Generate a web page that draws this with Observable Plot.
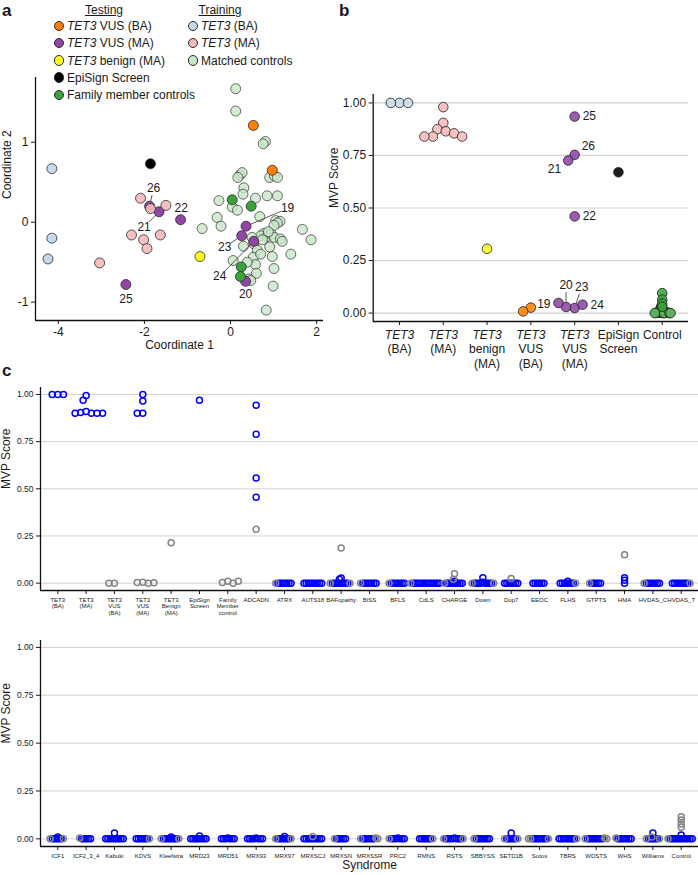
<!DOCTYPE html>
<html><head><meta charset="utf-8">
<script src="https://cdn.jsdelivr.net/npm/d3@7"></script>
<script src="https://cdn.jsdelivr.net/npm/@observablehq/plot@0.6"></script>
<style>
html,body{margin:0;padding:0;background:#fff}
#fig{position:relative;width:698px;height:875px;overflow:hidden;font-family:"Liberation Sans",Arial,Helvetica,sans-serif;color:#1a1a1a}
.plab{position:absolute;font-weight:bold;font-size:17px;line-height:17px}
.lg{position:absolute;font-size:12px;line-height:14px;white-space:nowrap}
.lg .sw{display:inline-block;box-sizing:border-box;width:10.5px;height:10.5px;border-radius:50%;border:0.9px solid #2b2b2b;vertical-align:-1px;margin-right:3px}
.hd{position:absolute;font-size:12px;line-height:14px;text-decoration:underline;transform:translateX(-50%);white-space:nowrap}
</style></head><body><div id="fig"></div>
<script>
// ---------------- DATA ----------------
// Panel a: MDS coordinates [Coordinate 1, Coordinate 2]
const mdsTET3BA = [[-4.15,0.67],[-4.15,-0.20],[-4.24,-0.46]];
const mdsTET3MA = [[-2.09,0.30],[-2.30,-0.16],[-2.02,-0.22],[-1.94,-0.33],[-1.63,-0.16],[-1.50,0.21],[-1.86,0.17],[-3.04,-0.51]];
const mdsMatched = [[0.12,1.67],[0.12,1.39],[0.81,1.01],[0.76,0.98],[0.22,0.59],[0.27,0.62],[0.17,0.56],[0.91,0.56],[1.02,0.58],[1.09,0.56],[0.31,0.43],[0.29,0.35],[-0.27,0.27],[0.58,0.30],[0.85,0.33],[1.09,0.33],[0.04,0.19],[0.16,0.15],[-0.31,0.06],[-0.22,-0.05],[-0.66,-0.08],[0.68,0.07],[1.05,0.02],[1.15,0.01],[1.09,-0.01],[1.01,-0.04],[1.67,-0.09],[1.87,-0.22],[1.40,-0.40],[0.78,-0.14],[0.70,-0.17],[0.85,-0.18],[0.95,-0.15],[1.02,-0.19],[1.16,-0.21],[1.20,-0.24],[0.50,-0.19],[0.54,-0.27],[0.91,-0.31],[0.97,-0.43],[0.62,-0.35],[0.53,-0.44],[0.58,-0.53],[0.06,-0.48],[1.01,-0.58],[0.60,-0.64],[0.43,-0.71],[0.99,-0.80],[0.83,-1.10],[0.39,-0.50],[0.47,-0.73],[0.70,-0.40],[0.88,-0.12],[0.74,-0.22],[0.30,-0.30]];
const mdsVUSBA = [[0.53,1.21],[0.97,0.65]];
const vusIds = [19,20,21,22,23,24,25,26];
const mdsVUSMA = [[0.36,-0.05],[0.35,-0.74],[-1.66,0.13],[-1.16,0.03],[0.26,-0.17],[0.54,-0.24],[-2.43,-0.78],[-1.88,0.20]];
const mdsBenign = [[-0.71,-0.43]];
const mdsEpiSign = [[-1.86,0.73]];
const mdsFamily = [[0.04,0.28],[0.48,0.20],[0.25,-0.56],[0.23,-0.68]];

// Panel b: MVP scores per group
const bCats = ["TET3\n(BA)","TET3\n(MA)","TET3\nbenign\n(MA)","TET3\nVUS\n(BA)","TET3\nVUS\n(MA)","EpiSign\nScreen","Control"];
const bTET3BA = [1.0,1.0,1.0];
const bTET3MA = [0.98,0.905,0.875,0.865,0.855,0.84,0.84,0.84];
const bBenign = [0.306];
const bVUSBA = [0.026,0.008];
const bVUSMAids = [25,26,21,22,23,20,24,19];
const bVUSMA = [0.935,0.753,0.726,0.46,0.024,0.029,0.04,0.048];
const bEpiSign = [0.67];
const bFamily = [0.095,0.064,0.045,0.03];
const bMatched = [0.03,0.025,0.02,0.02,0.015,0.015,0.012,0.01,0.01,0.01,0.008,0.008,0.006,0.005,0.005,0.005,0.004,0.003,0.003,0.002,0.002,0.002,0.001,0.001,0.001,0,0,0,0,0];

// Panel c: MVP scores by syndrome (blue / grey)
const cTopCats = ["TET3\n(BA)","TET3\n(MA)","TET3\nVUS\n(BA)","TET3\nVUS\n(MA)","TET3\nBenign\n(MA)","EpiSign\nScreen","Family\nMember\ncontrol","ADCADN","ATRX","AUTS18","BAFopathy","BISS","BFLS","CdLS","CHARGE","Down","Dup7","EEOC","FLHS","GTPTS","HMA","HVDAS_C","HVDAS_T"];
const cTopBlue = [
  [1,1,1],
  [0.995,0.97,0.91,0.905,0.9,0.9,0.9,0.9],
  [],
  [1.0,0.966,0.9,0.9],
  [],
  [0.97],
  [],
  [0.943,0.789,0.557,0.455],
  [0,0,0,0,0,0,0],
  [0,0,0,0,0,0,0,0,0],
  [0.027,0.02,0,0,0,0,0,0,0,0],
  [0,0,0,0,0,0,0],
  [0,0,0,0,0,0,0],
  [0,0,0,0,0,0,0,0,0,0,0,0,0],
  [0.01,0,0,0,0,0,0,0,0],
  [0.029,0.005,0,0,0,0,0,0,0,0],
  [0,0,0,0,0,0,0],
  [0,0,0,0,0,0],
  [0.01,0,0,0,0,0,0,0],
  [0,0,0,0,0],
  [0.015,0,0.029],
  [0,0,0,0,0,0,0],
  [0,0,0,0,0,0,0,0]
];
const cTopGrey = [
  [],[],[0,0],[0.005,0.003,0,0.002],[0.214],[],[0.01,0.003,0,0.01],[0.285],
  [0],[],[0.186,0,0],[0],[0],[0],[0.05,0.02,0],[0,0],[0.025],[],[0],[0],[0.15],[0],[0]
];
const cBotCats = ["ICF1","ICF2_3_4","Kabuki","KDVS","Kleefstra","MRD23","MRD51","MRX93","MRX97","MRXSCJ","MRXSN","MRXSSR","PRC2","RMNS","RSTS","SBBYSS","SETD1B","Sotos","TBRS","WDSTS","WHS","Williams","Control"];
const cBotBlue = [
  [0.01,0,0,0,0,0],
  [0,0,0,0,0],
  [0.03,0,0,0,0,0,0,0,0,0],
  [0,0,0,0,0,0],
  [0.01,0,0,0,0,0,0,0],
  [0.015,0,0,0,0,0,0,0,0],
  [0.005,0,0,0,0,0,0],
  [0.005,0,0,0,0,0,0,0],
  [0.012,0,0,0,0,0,0],
  [0,0,0,0,0,0,0,0,0],
  [0,0,0,0,0],
  [0,0,0,0,0,0],
  [0.005,0,0,0,0,0,0],
  [0,0,0,0,0,0],
  [0.005,0,0,0,0,0,0,0],
  [0,0,0,0,0,0,0],
  [0.03,0,0,0,0,0],
  [0,0,0,0,0,0,0],
  [0,0,0,0,0,0,0,0],
  [0,0,0,0,0,0,0,0],
  [0,0,0,0,0,0,0],
  [0.03,0,0,0,0,0],
  [0.02,0,0,0,0,0,0,0,0,0,0,0]
];
const cBotGrey = [
  [0,0],[0.005],[],[0],[0,0],[],[],[],[0,0],[0.012],[0],[0.005,0,0],[0],[0],[0,0],[0],[0,0],[0,0,0],[0],[0.005,0,0],[0.005],[0.01,0,0],[0.116,0.099,0.078,0.061,0]
];

// ---------------- STYLE ----------------
const FONT = '"Liberation Sans", Arial, Helvetica, sans-serif';
const INK = "#1a1a1a";
const COL = {lb:"#c6d9ec", pk:"#f6b9b9", mg:"#c8e6c8", or:"#ff7f00", pu:"#9146a3", ye:"#ffff1a", bk:"#000000", gr:"#3ba33b", ctl:"#5cb25c", blue:"#0000ff", grey:"#858585", grid:"#d2d2d2"};
const fig = document.getElementById("fig");
function place(node, left, top){ node.style.position="absolute"; node.style.left=left+"px"; node.style.top=top+"px"; fig.appendChild(node); return node; }
function div(cls, html, left, top){ const d=document.createElement("div"); d.className=cls; d.innerHTML=html; return place(d,left,top); }

// beeswarm: compute pixel offsets so circles keep a minimum distance
function swarm(pts, ypx, dOf){
  const placed=[];
  for(const p of pts){
    const y=ypx(p.v), d0=dOf(p), cands=[0];
    for(const q of placed){
      const d=(d0+q.d)/2, dy=y-q.y;
      if(Math.abs(dy)<d){ const h=Math.sqrt(d*d-dy*dy); cands.push(q.x-h, q.x+h); }
    }
    cands.sort((a,b)=>Math.abs(a)-Math.abs(b)||a-b);
    let x=0;
    for(const c of cands){
      if(placed.every(q=>{const d=(d0+q.d)/2; return (c-q.x)**2+(y-q.y)**2>=d*d-1e-6;})){ x=c; break; }
    }
    placed.push({x,y,d:d0}); p.off=x;
  }
}

// ---------------- PANEL A ----------------
const A={w:345,h:360,ml:35,mr:22,mt:77,mb:40,xd:[-4.53,2.16],yd:[-1.23,1.81]};
const kxA=(A.w-A.ml-A.mr)/(A.xd[1]-A.xd[0]), kyA=(A.h-A.mt-A.mb)/(A.yd[1]-A.yd[0]);
const obj = arr => arr.map(([x,y])=>({x,y}));
const aLabelOff = {19:[41.6,-17.7,true],20:[0,13,false],21:[-15,15,true],22:[0.7,-12,false],23:[-17,11.3,true],24:[-34,35,true],25:[0,15,false],26:[4,-18,true]};
const vusPts = mdsVUSMA.map(([x,y],i)=>({x,y,id:vusIds[i]}));
const aLab = vusPts.map(p=>{const [dx,dy,lead]=aLabelOff[p.id]; return {id:String(p.id),lx:p.x+dx/kxA,ly:p.y-dy/kyA,px:p.x,py:p.y,dx,dy,lead};});
const aLead = aLab.filter(l=>l.lead).map(l=>{const dist=Math.hypot(l.dx,l.dy),ux=l.dx/dist,uy=l.dy/dist,s=4.5,e=dist-7;
  return {x1:l.px+ux*s/kxA,y1:l.py-uy*s/kyA,x2:l.px+ux*e/kxA,y2:l.py-uy*e/kyA};});
const dotA=(arr,fill,extra={})=>Plot.dot(arr,{x:"x",y:"y",r:5,fill,stroke:"#2b2b2b",strokeWidth:0.8,...extra});
const svgA = Plot.plot({
  width:A.w,height:A.h,marginLeft:A.ml,marginRight:A.mr,marginTop:A.mt,marginBottom:A.mb,
  x:{domain:A.xd},y:{domain:A.yd},
  style:{fontFamily:FONT,fontSize:"12px",color:INK,background:"transparent",overflow:"visible"},
  marks:[
    Plot.axisX({ticks:[-4,-2,0,2],tickFormat:d=>String(d),tickSize:4,tickPadding:3,fontSize:12,label:null}),
    Plot.axisY({ticks:[-1,0,1],tickFormat:d=>String(d),tickSize:4,tickPadding:3,fontSize:12,label:null}),
    Plot.ruleX([A.xd[0]],{stroke:"#111",strokeWidth:1.3}),
    Plot.ruleY([A.yd[0]],{stroke:"#111",strokeWidth:1.3}),
    dotA(obj(mdsMatched),COL.mg,{fillOpacity:0.8,strokeOpacity:0.85}),
    dotA(obj(mdsTET3BA),COL.lb),
    dotA(vusPts,COL.pu),
    dotA(obj(mdsTET3MA),COL.pk,{fillOpacity:0.9}),
    dotA(obj(mdsVUSBA),COL.or),
    dotA(obj(mdsBenign),COL.ye),
    dotA(obj(mdsEpiSign),COL.bk),
    dotA(obj(mdsFamily),COL.gr),
    Plot.link(aLead,{x1:"x1",y1:"y1",x2:"x2",y2:"y2",stroke:"#333",strokeWidth:0.8}),
    Plot.text(aLab,{x:"lx",y:"ly",text:"id",fontSize:12,fill:INK}),
    Plot.text(["Coordinate 1"],{frameAnchor:"bottom",dy:28,text:d=>d,fontSize:12,fill:INK}),
    Plot.text(["Coordinate 2"],{frameAnchor:"left",dx:-28,rotate:-90,text:d=>d,fontSize:12,fill:INK})
  ]
});
place(svgA,0,0);

// legend (panel a)
const legTesting=[["<i>TET3</i> VUS (BA)",COL.or],["<i>TET3</i> VUS (MA)",COL.pu],["<i>TET3</i> benign (MA)",COL.ye],["EpiSign Screen",COL.bk],["Family member controls",COL.gr]];
const legTraining=[["<i>TET3</i> (BA)",COL.lb],["<i>TET3</i> (MA)",COL.pk],["Matched controls",COL.mg]];
div("hd","Testing",104,3);
div("hd","Training",220,3);
legTesting.forEach(([t,c],i)=>div("lg",`<span class="sw" style="background:${c}"></span>${t}`,53.5,19+i*17.3));
legTraining.forEach(([t,c],i)=>div("lg",`<span class="sw" style="background:${c}"></span>${t}`,187.5,19+i*17.3));

// ---------------- PANEL B ----------------
const B={w:376,h:375,ml:50.7,mr:10,mt:94,mb:54,xd:[-0.6,6.6],yd:[-0.04,1.04]};
const kxB=(B.w-B.ml-B.mr)/(B.xd[1]-B.xd[0]), kyB=(B.h-B.mt-B.mb)/(B.yd[1]-B.yd[0]);
const bPts=[];
const addB=(cat,vals,fill,ids)=>vals.forEach((v,i)=>bPts.push({cat,v,fill,id:ids?String(ids[i]):null}));
addB(0,bTET3BA,COL.lb); addB(1,bTET3MA,COL.pk); addB(2,bBenign,COL.ye); addB(3,bVUSBA,COL.or);
addB(4,bVUSMA,COL.pu,bVUSMAids); addB(5,bEpiSign,COL.bk); addB(6,bFamily,COL.gr); addB(6,bMatched,COL.ctl);
d3.groups(bPts,p=>p.cat).forEach(([c,g])=>swarm(g,v=>B.mt+(B.yd[1]-v)*kyB,p=>p.cat===6?1.15:8.6));
bPts.forEach(p=>p.x=p.cat+p.off/kxB);
const bDraw=[...bPts.filter(p=>p.fill===COL.ctl),...bPts.filter(p=>p.fill!==COL.ctl)];
const bLabelOff={25:[8,0,"start"],26:[7,-9,"start"],21:[-7,9,"end"],22:[8,0,"start"],19:[-8,1,"end"],20:[0,-22,"middle",true],23:[7,-21,"middle",true],24:[8,0,"start"]};
const bLab=bPts.filter(p=>p.id).map(p=>{const [dx,dy,anchor,lead]=bLabelOff[p.id];return {id:p.id,lx:p.x+dx/kxB,ly:p.v-dy/kyB,px:p.x,py:p.v,dx,dy,anchor,lead};});
const bLead=bLab.filter(l=>l.lead).map(l=>{const dist=Math.hypot(l.dx,l.dy),ux=l.dx/dist,uy=l.dy/dist,s=5,e=dist-7;
  return {x1:l.px+ux*s/kxB,y1:l.py-uy*s/kyB,x2:l.px+ux*e/kxB,y2:l.py-uy*e/kyB};});
const svgB = Plot.plot({
  width:B.w,height:B.h,marginLeft:B.ml,marginRight:B.mr,marginTop:B.mt,marginBottom:B.mb,
  x:{domain:B.xd},y:{domain:B.yd},
  style:{fontFamily:FONT,fontSize:"12px",color:INK,background:"transparent",overflow:"visible"},
  marks:[
    Plot.ruleY([0,0.25,0.5,0.75,1],{stroke:COL.grid,strokeWidth:1.2}),
    Plot.axisY({ticks:[0,0.25,0.5,0.75,1],tickFormat:d3.format(".2f"),tickSize:4,tickPadding:3,fontSize:12,label:null}),
    Plot.axisX({ticks:d3.range(bCats.length),tickFormat:i=>bCats[i],tickSize:4,tickPadding:3,fontSize:12,lineHeight:1.2,label:null}),
    Plot.ruleX([B.xd[0]],{stroke:"#111",strokeWidth:1.3}),
    Plot.ruleY([B.yd[0]],{stroke:"#111",strokeWidth:1.3}),
    Plot.dot(bDraw,{x:"x",y:"v",r:4.8,fill:"fill",fillOpacity:0.88,stroke:"#1f1f1f",strokeWidth:0.8}),
    Plot.link(bLead,{x1:"x1",y1:"y1",x2:"x2",y2:"y2",stroke:"#333",strokeWidth:0.8}),
    ...["start","middle","end"].map(an=>Plot.text(bLab.filter(l=>l.anchor===an),{x:"lx",y:"ly",text:"id",textAnchor:an,fontSize:12,fill:INK})),
    Plot.text(["MVP Score"],{frameAnchor:"left",dx:-38.7,rotate:-90,text:d=>d,fontSize:12,fill:INK})
  ]
});
d3.select(svgB).selectAll("tspan").filter(function(){return this.textContent==="TET3";}).attr("font-style","italic");
place(svgB,322,0);

// ---------------- PANEL C ----------------
function panelC(cats,blue,grey,firstSyn,C,xTitle){
  const kx=(C.w-C.ml-C.mr)/(C.xd[1]-C.xd[0]), ky=(C.h-C.mt-C.mb)/(C.yd[1]-C.yd[0]);
  const pts=[];
  cats.forEach((c,i)=>{blue[i].forEach(v=>pts.push({cat:i,v,stroke:COL.blue})); grey[i].forEach(v=>pts.push({cat:i,v,stroke:COL.grey}));});
  d3.groups(pts,p=>p.cat).forEach(([c,g])=>swarm(g,v=>C.mt+(C.yd[1]-v)*ky,p=>(p.cat>=firstSyn&&p.v<0.2)?2.2:5.6));
  pts.forEach(p=>p.x=p.cat+p.off/kx);
  const marks=[
    Plot.ruleY([0,0.25,0.5,0.75,1],{stroke:COL.grid,strokeWidth:1}),
    Plot.axisY({ticks:[0,0.25,0.5,0.75,1],tickFormat:d3.format(".2f"),tickSize:4,tickPadding:3,fontSize:8.5,label:null}),
    Plot.axisX({ticks:d3.range(cats.length),tickFormat:i=>cats[i],tickSize:4,tickPadding:2.5,fontSize:6,lineHeight:1.12,label:null}),
    Plot.ruleX([C.xd[0]],{stroke:"#111",strokeWidth:1.3}),
    Plot.ruleY([C.yd[0]],{stroke:"#111",strokeWidth:1.3}),
    Plot.dot(pts,{x:"x",y:"v",r:3,fill:"none",stroke:"stroke",strokeWidth:1.5}),
    Plot.text(["MVP Score"],{frameAnchor:"left",dx:-34,rotate:-90,text:d=>d,fontSize:12,fill:INK})
  ];
  if(xTitle) marks.push(Plot.text([xTitle],{frameAnchor:"bottom",dy:22,text:d=>d,fontSize:12,fill:INK}));
  return Plot.plot({
    width:C.w,height:C.h,marginLeft:C.ml,marginRight:C.mr,marginTop:C.mt,marginBottom:C.mb,
    x:{domain:C.xd},y:{domain:C.yd},
    style:{fontFamily:FONT,fontSize:"12px",color:INK,background:"transparent",overflow:"visible"},
    marks
  });
}
place(panelC(cTopCats,cTopBlue,cTopGrey,7,{w:698,h:260,ml:40,mr:0,mt:27,mb:30,xd:[-0.61,22.61],yd:[-0.039,1.037]},null),0,360);
place(panelC(cBotCats,cBotBlue,cBotGrey,0,{w:698,h:255,ml:40,mr:0,mt:20,mb:29,xd:[-0.61,22.61],yd:[-0.04,1.036]},"Syndrome"),0,620);

// panel letters
div("plab","a",2,2);
div("plab","b",339,2);
div("plab","c",2,362);
</script></body></html>
